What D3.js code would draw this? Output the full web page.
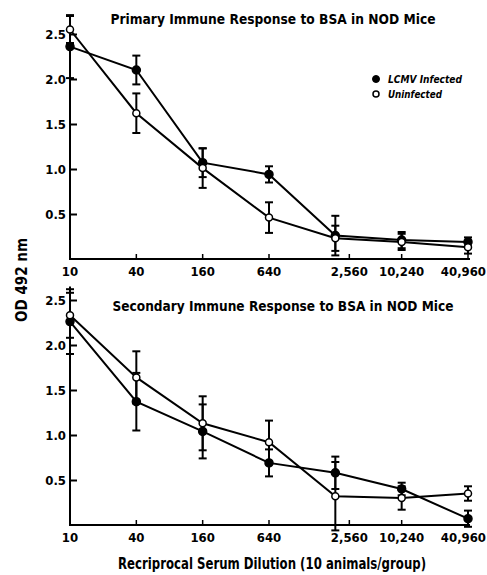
<!DOCTYPE html>
<html>
<head>
<meta charset="utf-8">
<script src="https://cdn.jsdelivr.net/npm/d3@7"></script>
<style>
  html, body { margin: 0; padding: 0; background: #fff; }
  svg { display: block; }
  text { font-family: "Liberation Sans Narrow", "DejaVu Sans Condensed", sans-serif; font-weight: bold; fill: #000; }
</style>
</head>
<body>
<div id="chart"></div>
<script>
// reciprocal serum dilutions (x) and their printed labels
var dilutions = [10, 40, 160, 640, 2560, 10240, 40960];
var dilutionLabels = ["10", "40", "160", "640", "2,560", "10,240", "40,960"];
var yTicks = [0.5, 1.0, 1.5, 2.0, 2.5];

// OD 492 nm, mean and error
var primaryLCMV = [2.36, 2.10, 1.07, 0.94, 0.26, 0.21, 0.19];
var primaryLCMVErr = [0.35, 0.16, 0.16, 0.09, 0.22, 0.09, 0.05];
var primaryUninf = [2.55, 1.62, 1.01, 0.46, 0.23, 0.19, 0.13];
var primaryUninfErr = [0.15, 0.22, 0.22, 0.17, 0.14, 0.09, 0.07];

var secondaryLCMV = [2.26, 1.37, 1.04, 0.69, 0.58, 0.40, 0.07];
var secondaryLCMVErr = [0.36, 0.32, 0.30, 0.15, 0.18, 0.07, 0.09];
var secondaryUninf = [2.33, 1.64, 1.13, 0.92, 0.32, 0.30, 0.35];
var secondaryUninfErr = [0.25, 0.29, 0.30, 0.24, 0.38, 0.13, 0.08];

var width = 487, height = 575;

var svg = d3.select('#chart').append('svg')
    .attr('width', width)
    .attr('height', height);

var x = d3.scaleLog().domain([10, 40960]).range([70, 468]);

function toPoints(vals, errs) {
    return vals.map(function (v, i) {
        return { d: dilutions[i], v: v, e: errs[i] };
    });
}

function drawPanel(opts) {
    var y = d3.scaleLinear().domain([0, 2.5]).range([opts.y0, opts.y0 - 225]);
    var g = svg.append('g');

    // y axis line and inward ticks
    g.append('line')
        .attr('x1', x(10)).attr('x2', x(10))
        .attr('y1', y(0)).attr('y2', y(2.65))
        .attr('stroke', '#000').attr('stroke-width', 2);
    var yAx = g.append('g')
        .attr('transform', 'translate(' + x(10) + ',0)')
        .call(d3.axisLeft(y).tickValues(yTicks).tickSize(-7).tickPadding(4)
            .tickFormat(d3.format('.1f')));
    yAx.select('.domain').remove();
    yAx.selectAll('line').attr('stroke-width', 2);
    yAx.selectAll('text').style('font-size', '13px');

    // x axis
    g.append('line')
        .attr('x1', x(10) - 1).attr('x2', x(40960) + 2)
        .attr('y1', y(0)).attr('y2', y(0))
        .attr('stroke', '#000').attr('stroke-width', 2);
    var shift = function (i) { return i === 4 ? 14 : 0; };
    g.selectAll('.xtick').data(dilutions.slice(1)).enter().append('line')
        .attr('x1', function (d, i) { return x(d) + shift(i + 1); })
        .attr('x2', function (d, i) { return x(d) + shift(i + 1); })
        .attr('y1', y(0)).attr('y2', y(0) - 5)
        .attr('stroke', '#000').attr('stroke-width', 1.5);
    var last = dilutions.length - 1;
    g.selectAll('.xlab').data(dilutions).enter().append('text')
        .attr('x', function (d, i) { return i === last ? width - 1 : x(d) + shift(i); })
        .attr('y', y(0) + 17)
        .attr('text-anchor', function (d, i) { return i === last ? 'end' : 'middle'; })
        .style('font-size', '13px')
        .text(function (d, i) { return dilutionLabels[i]; });

    // title
    g.append('text')
        .attr('x', opts.titleX).attr('y', opts.titleY)
        .attr('text-anchor', 'middle')
        .attr('textLength', opts.titleLen).attr('lengthAdjust', 'spacingAndGlyphs')
        .style('font-size', '14.5px')
        .text(opts.title);

    var line = d3.line().x(function (p) { return x(p.d); }).y(function (p) { return y(p.v); });

    opts.series.forEach(function (s) {
        var pts = toPoints(s.vals, s.errs);
        g.append('path').datum(pts)
            .attr('d', line)
            .attr('fill', 'none').attr('stroke', '#000').attr('stroke-width', 2);

        var eb = g.selectAll(null).data(pts).enter().append('g');
        eb.append('line')
            .attr('x1', function (p) { return x(p.d); }).attr('x2', function (p) { return x(p.d); })
            .attr('y1', function (p) { return y(p.v - p.e); }).attr('y2', function (p) { return y(p.v + p.e); })
            .attr('stroke', '#000').attr('stroke-width', 2);
        [-1, 1].forEach(function (sg) {
            eb.append('line')
                .attr('x1', function (p) { return x(p.d) - 4; }).attr('x2', function (p) { return x(p.d) + 4; })
                .attr('y1', function (p) { return y(p.v + sg * p.e); }).attr('y2', function (p) { return y(p.v + sg * p.e); })
                .attr('stroke', '#000').attr('stroke-width', 2);
        });
    });

    opts.series.forEach(function (s) {
        g.selectAll(null).data(toPoints(s.vals, s.errs)).enter().append('circle')
            .attr('cx', function (p) { return x(p.d); })
            .attr('cy', function (p) { return y(p.v); })
            .attr('r', s.filled ? 4 : 3.5)
            .attr('fill', s.filled ? '#000' : '#fff')
            .attr('stroke', '#000').attr('stroke-width', 1.5);
    });
}

drawPanel({
    y0: 259,
    title: 'Primary Immune Response to BSA in NOD Mice',
    titleX: 273, titleY: 24, titleLen: 325,
    series: [
        { vals: primaryLCMV, errs: primaryLCMVErr, filled: true },
        { vals: primaryUninf, errs: primaryUninfErr, filled: false }
    ]
});

drawPanel({
    y0: 525,
    title: 'Secondary Immune Response to BSA in NOD Mice',
    titleX: 283, titleY: 311, titleLen: 341,
    series: [
        { vals: secondaryLCMV, errs: secondaryLCMVErr, filled: true },
        { vals: secondaryUninf, errs: secondaryUninfErr, filled: false }
    ]
});

// legend
var legend = svg.append('g');
legend.append('circle').attr('cx', 376).attr('cy', 79).attr('r', 3.5).attr('fill', '#000').attr('stroke', '#000');
legend.append('circle').attr('cx', 376).attr('cy', 94).attr('r', 3).attr('fill', '#fff').attr('stroke', '#000').attr('stroke-width', 1.5);
legend.append('text').attr('x', 388).attr('y', 83).style('font-size', '11px').style('font-style', 'italic')
    .attr('textLength', 74).attr('lengthAdjust', 'spacingAndGlyphs').text('LCMV Infected');
legend.append('text').attr('x', 388).attr('y', 98).style('font-size', '11px').style('font-style', 'italic')
    .attr('textLength', 54).attr('lengthAdjust', 'spacingAndGlyphs').text('Uninfected');

// axis titles
svg.append('text')
    .attr('x', 272).attr('y', 569)
    .attr('text-anchor', 'middle')
    .attr('textLength', 308).attr('lengthAdjust', 'spacingAndGlyphs')
    .style('font-size', '15px')
    .text('Recriprocal Serum Dilution (10 animals/group)');

svg.append('text')
    .attr('transform', 'translate(27,280) rotate(-90)')
    .attr('text-anchor', 'middle')
    .attr('textLength', 84).attr('lengthAdjust', 'spacingAndGlyphs')
    .style('font-size', '16px')
    .text('OD 492 nm');
</script>
</body>
</html>
